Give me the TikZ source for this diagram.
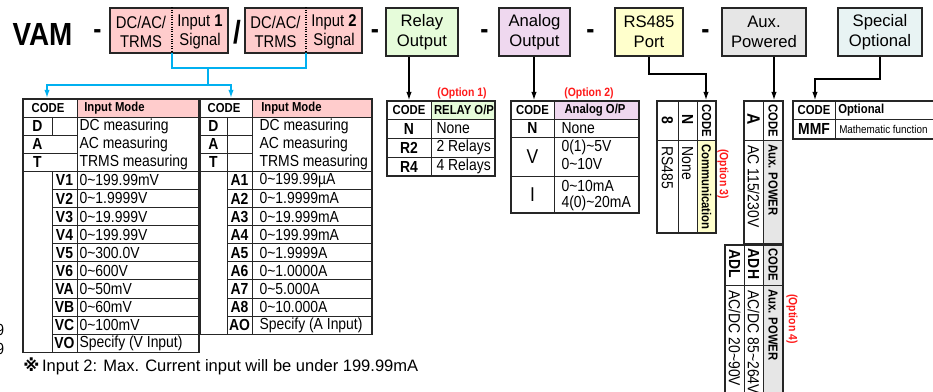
\documentclass[tikz,border=0pt]{standalone}
\usepackage{fontspec}
\setmainfont{Liberation Sans}[FakeStretch=0.87]
\newfontfamily\widefont{Liberation Sans}
\newfontfamily\symbfont{DejaVu Sans}
\usetikzlibrary{arrows.meta}
\newcommand{\tld}{\textasciitilde}
\newcommand{\fsz}[2]{\fontsize{#1}{#2}\selectfont}
\definecolor{inPink}{HTML}{FFCCCC}
\definecolor{relayGreen}{HTML}{E6FCDA}
\definecolor{analogViolet}{HTML}{EFD8EF}
\definecolor{portYellow}{HTML}{FFFFCC}
\definecolor{auxGrey}{HTML}{E6E6E6}
\definecolor{specMint}{HTML}{E8F3F3}
\definecolor{tapBlue}{HTML}{00B0F0}
\definecolor{optRed}{HTML}{FF1A1A}
\definecolor{rule}{HTML}{262626}

\begin{document}
\begin{tikzpicture}[
  x=0.75pt, y=-0.75pt,
  >={Latex[length=6pt,width=4pt]},
  hdrbox/.style={draw=rule, line width=0.9pt, inner sep=0pt, align=center},
  boxtxt/.style={inner sep=0pt, align=center, font=\fsz{12.75}{14.7}},
  dashtxt/.style={inner sep=0pt, font=\fsz{21}{21}\bfseries},
  tbl/.style={draw=rule, line width=1pt},
  cell/.style={draw=rule, line width=0.6pt},
  celltxt/.style={anchor=west, inner sep=1pt, font=\fsz{12}{12}},
  codetxt/.style={inner sep=0pt, font=\fsz{12}{12}\bfseries},
  headtxt/.style={inner sep=0pt, font=\fsz{9.75}{10}\bfseries},
  opttxt/.style={text=optRed, inner sep=0pt, font=\fsz{9}{10}\bfseries},
  tap/.style={draw=tapBlue, line width=1.1pt},
  feed/.style={draw=black, line width=0.8pt}
]
\useasboundingbox (0,0) rectangle (933,392);
\clip (0,0) rectangle (933,392);

% Top line: model code with its option boxes
\node[inner sep=0pt, font=\fsz{24}{24}\bfseries] (vam) at (42.5,34) {VAM};
\node[dashtxt] (dash0) at (97.5,34) {-};
\node[hdrbox, fill=inPink, minimum width=88.5pt, minimum height=33.75pt] (in1) at (169,30.5) {};
\node[hdrbox, fill=inPink, minimum width=87.75pt, minimum height=33.75pt] (in2) at (303.5,30.5) {};
\coordinate (in1tap) at (172,53);
\coordinate (in2tap) at (306,53);
\draw[densely dotted, line width=0.8pt] (in1.north -| in1tap) -- (in1tap);
\draw[densely dotted, line width=0.8pt] (in2.north -| in2tap) -- (in2tap);
\node[boxtxt] (in1a) at (141,32) {DC/AC/\\TRMS};
\node[boxtxt] (in1b) at (200,32) {Input \textbf{1}\\Signal};
\node[boxtxt] (in2a) at (275.5,32) {DC/AC/\\TRMS};
\node[boxtxt] (in2b) at (334,32) {Input \textbf{2}\\Signal};
\node[inner sep=0pt, font=\fsz{24}{24}\bfseries] (slash) at (237,32) {/};
\node[dashtxt] (dash1) at (375,34) {-};

\node[hdrbox, fill=relayGreen, minimum width=54pt, minimum height=36pt,
  font=\widefont\fsz{12.5}{14.7}] (relay) at (422,32) {Relay\\Output};
\node[dashtxt] (dash2) at (484.5,34) {-};
\node[hdrbox, fill=analogViolet, minimum width=53.25pt, minimum height=36pt,
  font=\widefont\fsz{12.5}{14.7}] (analog) at (534.5,32) {Analog\\Output};
\node[dashtxt] (dash3) at (590.5,34) {-};
\node[hdrbox, fill=portYellow, minimum width=51pt, minimum height=36pt,
  font=\widefont\fsz{12.5}{14.7}] (rs) at (649,32) {RS485\\Port};
\node[dashtxt] (dash4) at (705.5,34) {-};
\node[hdrbox, fill=auxGrey, minimum width=63pt, minimum height=36pt,
  font=\widefont\fsz{12.5}{14.7}] (aux) at (764,32) {Aux.\\Powered};
\node[hdrbox, fill=specMint, minimum width=63pt, minimum height=36pt,
  font=\widefont\fsz{12.5}{14.7}] (spec) at (880,32) {Special\\Optional};

% Blue taps from both inputs to the two mode tables
\coordinate (tapjoin) at (208,68);
\coordinate (tapsplit) at (208,85);
\coordinate (modeVtip) at (47,98);
\coordinate (modeAtip) at (231,98);
\draw[tap] (in1tap) |- (tapjoin) -| (in2tap);
\draw[tap] (tapjoin) -- (tapsplit);
\draw[tap,->] (tapsplit) -| (modeVtip);
\draw[tap,->] (tapsplit) -| (modeAtip);

% Black feeds to the option tables
\coordinate (relaytip) at (409,100);
\coordinate (analogtip) at (534,100);
\coordinate (rsknee) at (649,74);
\coordinate (rstip) at (706,100);
\coordinate (auxtip) at (774,100);
\coordinate (specknee) at (880,79);
\coordinate (spectip) at (815,100);
\draw[feed,->] (relay.south -| relaytip) -- (relaytip);
\draw[feed,->] (analog.south -| analogtip) -- (analogtip);
\draw[feed,->] (rs.south) -- (rsknee) -| (rstip);
\draw[feed,->] (aux.south -| auxtip) -- (auxtip);
\draw[feed,->] (spec.south) -- (specknee) -| (spectip);

% Voltage input table
\fill[inPink] (77,99) rectangle (199,117);
\draw[tbl] (23,99) rectangle (199,352.3);
\draw[cell] (23,117) -- (199,117);
\draw[cell] (77,99) -- (77,352.3);
\draw[cell] (52,117) -- (52,135.1);
\draw[cell] (52,171.3) -- (52,352.3);
\foreach \k in {1,2} \draw[cell] (23,{117+18.1*\k}) -- (77,{117+18.1*\k});
\draw[cell] (23,171.3) -- (199,171.3);
\foreach \k in {4,...,12} \draw[cell] (52,{117+18.1*\k}) -- (199,{117+18.1*\k});
\node[headtxt] (vcode) at (48,108) {CODE};
\node[headtxt, anchor=west] (vmode) at (84,108) {Input Mode};
\foreach \c/\t [count=\k from 0] in {D/DC measuring, A/AC measuring, T/TRMS measuring} {
  \node[codetxt] (vc\k) at (37.5,{126.05+18.1*\k}) {\c};
  \node[celltxt] (vt\k) at (78,{126.05+18.1*\k}) {\t};
}
\foreach \c/\t [count=\k from 3] in {V1/0\tld199.99mV, V2/0\tld1.9999V,
    V3/0\tld19.999V, V4/0\tld199.99V, V5/0\tld300.0V, V6/0\tld600V,
    VA/0\tld50mV, VB/0\tld60mV, VC/0\tld100mV, VO/Specify (V Input)} {
  \node[codetxt] (vc\k) at (64.5,{126.05+18.1*\k}) {\c};
  \node[celltxt] (vt\k) at (78,{126.05+18.1*\k}) {\t};
}

% Current input table
\fill[inPink] (252,99) rectangle (372,117);
\draw[tbl] (200,99) rectangle (372,334.2);
\draw[cell] (200,117) -- (372,117);
\draw[cell] (252,99) -- (252,334.2);
\draw[cell] (227,117) -- (227,334.2);
\foreach \k in {1,2} \draw[cell] (200,{117+18.1*\k}) -- (252,{117+18.1*\k});
\draw[cell] (200,171.3) -- (372,171.3);
\foreach \k in {4,...,11} \draw[cell] (227,{117+18.1*\k}) -- (372,{117+18.1*\k});
\node[headtxt] (acode) at (224,108) {CODE};
\node[headtxt, anchor=west] (amode) at (261,108) {Input Mode};
\foreach \c/\t [count=\k from 0] in {D/DC measuring, A/AC measuring, T/TRMS measuring} {
  \node[codetxt] (ac\k) at (213.5,{126.05+18.1*\k}) {\c};
  \node[celltxt] (at\k) at (258,{126.05+18.1*\k}) {\t};
}
\foreach \c/\t [count=\k from 3] in {A1/0\tld199.99µA, A2/0\tld1.9999mA,
    A3/0\tld19.999mA, A4/0\tld199.99mA, A5/0\tld1.9999A, A6/0\tld1.0000A,
    A7/0\tld5.000A, A8/0\tld10.000A, AO/Specify (A Input)} {
  \node[codetxt] (ac\k) at (239.5,{126.05+18.1*\k}) {\c};
  \node[celltxt] (at\k) at (258,{126.05+18.1*\k}) {\t};
}
\node[anchor=west, inner sep=0pt, font=\widefont\fsz{12.4}{13}] (note) at (23,366)
  {{\symbfont\bfseries ※}\,Input 2: Max. Current input will be under 199.99mA};
\node[anchor=east, inner sep=0pt, font=\fsz{12}{12}] (cut1) at (4.5,330) {9};
\node[anchor=east, inner sep=0pt, font=\fsz{12}{12}] (cut2) at (4.5,349) {9};

% Relay output table
\node[opttxt] (opt1) at (462,93) {(Option 1)};
\fill[relayGreen] (431,101) rectangle (495,119);
\draw[tbl] (387,101) rectangle (495,176);
\draw[cell] (431,101) -- (431,176);
\foreach \yy in {119,138,157} \draw[cell] (387,\yy) -- (495,\yy);
\node[headtxt] (rcode) at (409,110) {CODE};
\node[headtxt] (rhead) at (464,110) {RELAY O/P};
\foreach \c/\t [count=\k from 0] in {N/None, R2/2 Relays, R4/4 Relays} {
  \node[codetxt] (rc\k) at (409,{128.5+19*\k}) {\c};
  \node[celltxt] (rt\k) at (435,{128.5+19*\k}) {\t};
}

% Analog output table
\node[opttxt] (opt2) at (589,93) {(Option 2)};
\fill[analogViolet] (554,101) rectangle (639,119);
\draw[tbl] (511,101) rectangle (639,213);
\draw[cell] (554,101) -- (554,213);
\foreach \yy in {119,137,176} \draw[cell] (511,\yy) -- (639,\yy);
\node[headtxt] (ncode) at (532.5,110) {CODE};
\node[headtxt] (nhead) at (595,110) {Analog O/P};
\node[codetxt] (nc0) at (532.5,128) {N};
\node[inner sep=0pt, font=\fsz{15}{15}] (nc1) at (532.5,156.5) {V};
\node[inner sep=0pt, font=\fsz{15}{15}] (nc2) at (532.5,194.5) {I};
\node[celltxt] (nt0) at (560,128) {None};
\node[celltxt] (nt1) at (560,147) {0(1)\tld5V};
\node[celltxt] (nt2) at (560,164) {0\tld10V};
\node[celltxt] (nt3) at (560,186) {0\tld10mA};
\node[celltxt] (nt4) at (560,203) {4(0)\tld20mA};

% Communication table, turned on its side
\fill[portYellow] (697,140) rectangle (716,233);
\draw[tbl] (657,101) rectangle (716,233);
\draw[cell] (657,140) -- (716,140);
\draw[cell] (678,101) -- (678,233);
\draw[cell] (697,101) -- (697,233);
\node[headtxt, rotate=-90] (pcode) at (706.5,120.5) {CODE};
\node[headtxt, rotate=-90, anchor=west] (phead) at (706.5,144) {Communication};
\node[codetxt, rotate=-90] (pc0) at (687.5,120) {N};
\node[celltxt, rotate=-90] (pt0) at (687.5,145) {None};
\node[codetxt, rotate=-90] (pc1) at (667.5,120) {8};
\node[celltxt, rotate=-90] (pt1) at (667.5,145) {RS485};
\node[opttxt, rotate=-90] (opt3) at (723,174) {(Option 3)};

% Aux. power tables, turned on their side
\fill[auxGrey] (763,140) rectangle (783,244);
\draw[tbl] (744,101) rectangle (783,244);
\draw[cell] (744,140) -- (783,140);
\draw[cell] (763,101) -- (763,244);
\node[headtxt, rotate=-90] (xcode) at (773,120.5) {CODE};
\node[headtxt, rotate=-90, anchor=west] (xhead) at (773,144) {Aux. POWER};
\node[inner sep=0pt, rotate=-90, font=\fsz{13.5}{14}\bfseries] (xc0) at (753.5,119) {A};
\node[celltxt, rotate=-90] (xt0) at (753.5,144) {AC 115/230V};

\fill[auxGrey] (763,245) rectangle (783,400);
\draw[tbl] (725,245) rectangle (783,400);
\draw[cell] (725,285) -- (783,285);
\draw[cell] (744,245) -- (744,400);
\draw[cell] (763,245) -- (763,400);
\node[headtxt, rotate=-90] (ycode) at (773,264.5) {CODE};
\node[headtxt, rotate=-90, anchor=west] (yhead) at (773,289) {Aux. POWER};
\node[codetxt, rotate=-90] (yc0) at (753.5,264) {ADH};
\node[celltxt, rotate=-90] (yt0) at (753.5,289) {AC/DC 85\tld264V};
\node[codetxt, rotate=-90] (yc1) at (734.5,264) {ADL};
\node[celltxt, rotate=-90] (yt1) at (734.5,289) {AC/DC 20\tld90V};
\node[opttxt, rotate=-90] (opt4) at (792,319) {(Option 4)};

% Special optional table
\draw[tbl] (793,101) rectangle (945,139);
\draw[cell] (793,119) -- (945,119);
\draw[cell] (835,101) -- (835,139);
\node[headtxt] (scode) at (814,110) {CODE};
\node[headtxt, anchor=west] (shead) at (838,110) {Optional};
\node[codetxt] (sc0) at (814,129) {MMF};
\node[anchor=west, inner sep=0pt, font=\fsz{8.5}{9}] (st0) at (839,129) {Mathematic function};
\end{tikzpicture}
\end{document}
